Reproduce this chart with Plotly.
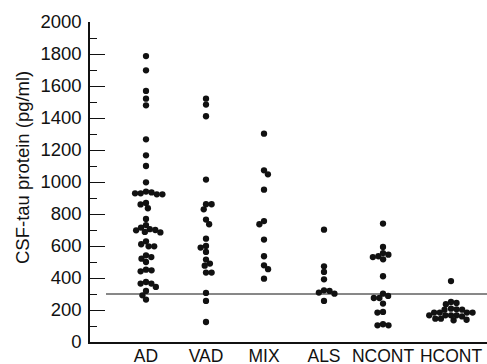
import numpy as np
import plotly.graph_objects as go

# ---------------- data ----------------
categories = ["AD", "VAD", "MIX", "ALS", "NCONT", "HCONT"]

ad = [1787, 1698, 1569, 1521, 1479, 1267, 1167, 1100, 998,
      940, 935, 929, 929, 923, 923, 869, 860, 836, 769,
      731, 715, 705, 700, 698, 688, 685,
      629, 611, 598, 598, 542, 531, 521, 500,
      452, 448, 442, 375, 365, 365, 344, 319, 292, 265]
vad = [1521, 1484, 1411, 1015, 861, 861, 829, 765, 736, 646,
       600, 590, 563, 515, 490, 477, 434, 434, 307, 257, 125]
mix = [1302, 1073, 1048, 952, 756, 736, 640, 536, 479, 455, 396]
als = [702, 473, 438, 392, 323, 319, 309, 302, 257]
ncont = [740, 594, 556, 546, 536, 531, 517, 411, 302, 288, 275, 275,
         240, 188, 184, 111, 104, 104]
hcont = [381, 250, 244, 236, 208, 204, 202, 202, 184, 184, 184, 184,
         167, 167, 167, 167, 160, 146, 146, 139, 136]

groups = [ad, vad, mix, als, ncont, hcont]
cutoff = 300
y_ticks = list(range(0, 2001, 200))

# ---------------- layout constants ----------------
W, H = 487, 364
M = dict(l=90, r=0, t=22, b=22, autoexpand=False)
Y_RANGE = (0, 2000)
X_RANGE = (90, 487)
cat_pos = [146, 206, 264, 324, 383, 451]
DOT = 6.3
COLLIDE = 5.6
FONT = "Liberation Sans, Arial, Helvetica, sans-serif"
INK = "#111111"

px_per_unit = (H - M["t"] - M["b"]) / (Y_RANGE[1] - Y_RANGE[0])


def beeswarm(vals):
    """Horizontal offsets (px) so that dots do not overlap."""
    ys = np.asarray(vals, dtype=float) * px_per_unit
    order = np.argsort(-ys, kind="stable")
    placed = []
    xs = np.zeros(len(ys))
    flip = 1
    for i in order:
        y = ys[i]
        iv = []
        for (px, py) in placed:
            dy = abs(py - y)
            if dy < COLLIDE:
                w = np.sqrt(COLLIDE ** 2 - dy ** 2)
                iv.append((px - w, px + w))
        cands = [0.0] + [a for a, _ in iv] + [b for _, b in iv]
        cands.sort(key=lambda c: (round(abs(c), 6), -flip * c))
        for c in cands:
            if all(not (a + 1e-6 < c < b - 1e-6) for a, b in iv):
                xs[i] = c
                break
        if xs[i] != 0:
            flip = -flip
        placed.append((xs[i], y))
    return xs


fig = go.Figure()
for name, pos, vals in zip(categories, cat_pos, groups):
    offs = beeswarm(vals)
    fig.add_trace(go.Scatter(
        x=pos + offs, y=vals, mode="markers", name=name,
        marker=dict(size=DOT, color=INK, line=dict(width=0)),
        hoverinfo="y", showlegend=False,
    ))

fig.add_shape(type="line", xref="x", yref="y",
              x0=106, x1=X_RANGE[1], y0=cutoff, y1=cutoff,
              line=dict(color=INK, width=1))

fig.add_annotation(
    text="CSF-tau protein (pg/ml)", textangle=-90,
    xref="paper", yref="paper",
    x=(22 - M["l"]) / (W - M["l"] - M["r"]),
    y=(H - M["b"] - 168) / (H - M["t"] - M["b"]),
    xanchor="center", yanchor="middle", showarrow=False,
    font=dict(family=FONT, size=18.5, color=INK),
)

fig.update_layout(
    width=W, height=H, margin=M,
    paper_bgcolor="white", plot_bgcolor="white",
    font=dict(family=FONT, color=INK),
    xaxis=dict(
        range=list(X_RANGE), tickvals=cat_pos, ticktext=categories,
        showline=True, linecolor=INK, linewidth=1.5,
        ticks="", showgrid=False, zeroline=False, automargin=False,
        tickfont=dict(family=FONT, size=17.5, color=INK),
        ticklabelstandoff=-3,
    ),
    yaxis=dict(
        range=list(Y_RANGE), tickvals=y_ticks,
        showline=True, linecolor=INK, linewidth=1.5,
        ticks="inside", ticklen=15, tickwidth=1.3, tickcolor=INK,
        minor=dict(ticks="inside", ticklen=7, dtick=100,
                   tickwidth=1.3, tickcolor=INK),
        showgrid=False, zeroline=False, automargin=False,
        tickfont=dict(family=FONT, size=18.5, color=INK),
        ticklabelstandoff=3,
    ),
)

fig.write_html(
    "out.html",
    config={"displayModeBar": False},
    post_script="document.body.style.margin='0';"
                "document.body.style.overflow='hidden';",
)
